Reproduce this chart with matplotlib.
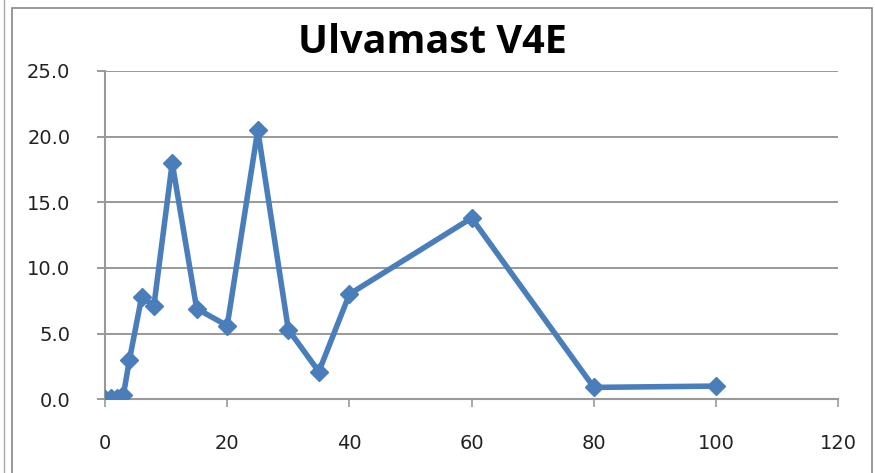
import matplotlib.pyplot as plt
from matplotlib.patches import Rectangle
from matplotlib.lines import Line2D
from matplotlib.ticker import FormatStrFormatter

# measurement series
x_vals = [0, 1, 2, 3, 4, 6, 8, 11, 15, 20, 25, 30, 35, 40, 60, 80, 100]
y_vals = [0.0, 0.1, 0.1, 0.3, 3.0, 7.8, 7.1, 18.0, 6.9, 5.6, 20.5, 5.3, 2.1, 8.0, 13.8, 0.9, 1.0]
x_ticks = [0, 20, 40, 60, 80, 100, 120]
y_ticks = [0.0, 5.0, 10.0, 15.0, 20.0, 25.0]

fig = plt.figure(figsize=(8.75, 4.73), dpi=100)
ax = fig.add_axes([0.12, 0.156, 0.838, 0.694])

# chart frame around everything (open at the bottom edge)
fig.patches.append(Rectangle((11.5 / 875, -10 / 473), 860 / 875, 475 / 473,
                             transform=fig.transFigure, fill=False,
                             edgecolor='#888888', linewidth=1.2))
fig.lines.append(Line2D([3.5 / 875, 3.5 / 875], [0, 1], transform=fig.transFigure,
                        color='#aaaaaa', linewidth=1.0))

ax.plot(x_vals, y_vals, color='#4a7ebb', linewidth=4, marker='D',
        markersize=9, zorder=3)

ax.set_xlim(0, 120)
ax.set_ylim(0, 25)
ax.set_xticks(x_ticks)
ax.set_yticks(y_ticks)
ax.yaxis.set_major_formatter(FormatStrFormatter('%.1f'))
ax.grid(axis='y', color='#888888', linewidth=1.2)
ax.set_axisbelow(True)

for side in ['top', 'right']:
    ax.spines[side].set_visible(False)
for side in ['left', 'bottom']:
    ax.spines[side].set_color('#999999')
    ax.spines[side].set_linewidth(1.5)
ax.tick_params(axis='x', direction='out', length=6, width=1.2, color='#999999',
               labelsize=14, pad=19, labelcolor='#222222')
ax.tick_params(axis='y', direction='out', length=6, width=1.2, color='#888888',
               labelsize=14, pad=19, labelcolor='#222222')

fig.text(0.494, 0.910, 'Ulvamast V4E', ha='center', va='center',
         fontsize=28.5, fontweight='bold', family='Open Sans')

fig.savefig('out.png', dpi=100)
